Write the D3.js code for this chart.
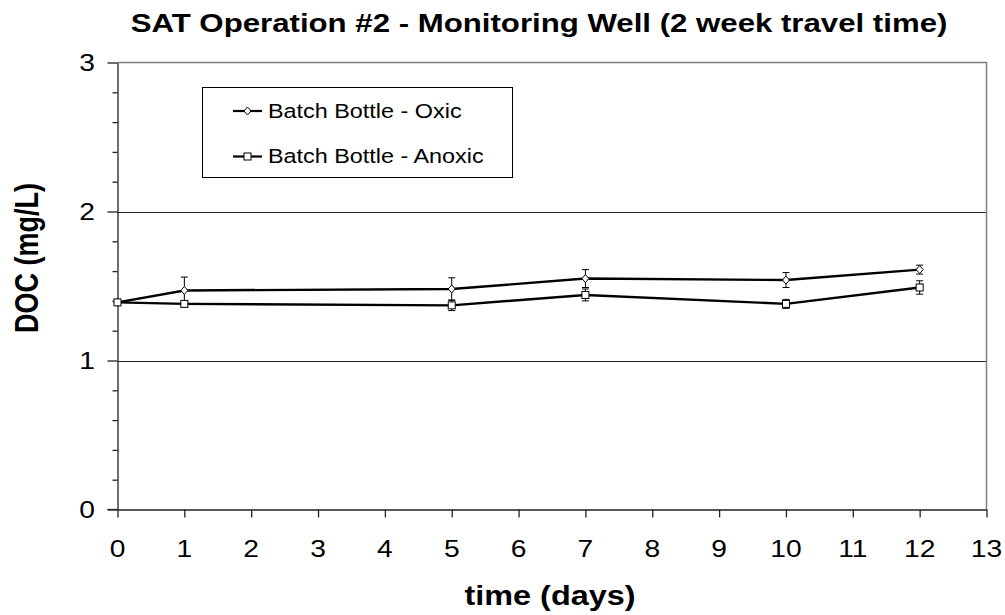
<!DOCTYPE html>
<html>
<head>
<meta charset="utf-8">
<script src="https://cdn.jsdelivr.net/npm/d3@7"></script>
<style>
  body { margin: 0; background: #fff; }
  svg { display: block; font-family: "Liberation Sans", Arial, sans-serif; }
</style>
</head>
<body>
<svg width="1005" height="615"></svg>
<script>
// values
const days = [0, 1, 5, 7, 10, 12];
const oxic = [1.39, 1.47, 1.48, 1.55, 1.54, 1.61];
const oxicErr = [0, 0.09, 0.075, 0.06, 0.05, 0.03];
const anoxic = [1.39, 1.38, 1.37, 1.44, 1.38, 1.49];
const anoxicErr = [0, 0.02, 0.035, 0.04, 0.03, 0.045];
const xTicks = [0, 1, 2, 3, 4, 5, 6, 7, 8, 9, 10, 11, 12, 13];
const yTicks = [0, 1, 2, 3];
const seriesNames = ["Batch Bottle - Oxic", "Batch Bottle - Anoxic"];

const sx = 1.2; // text in the picture is stretched sideways
const svg = d3.select("svg");
let margin = {top: 62.5, left: 117.5, right: 18.5, bottom: 105.5};
let w = 1005, h = 615;

var xScale = d3.scaleLinear().domain([0, 13]).range([margin.left, w - margin.right]);
var yScale = d3.scaleLinear().domain([0, 3]).range([h - margin.bottom, margin.top]);

// grid lines at 1 and 2
svg.append("g").selectAll("line")
  .data([1, 2])
  .enter().append("line")
  .attr("x1", xScale(0)).attr("x2", xScale(13))
  .attr("y1", d => Math.round(yScale(d)) + 0.5).attr("y2", d => Math.round(yScale(d)) + 0.5)
  .attr("stroke", "#222").attr("stroke-width", 1);

// plot area border (top and right)
svg.append("path")
  .attr("d", "M" + xScale(0) + "," + yScale(3) + "H" + xScale(13) + "V" + yScale(0))
  .attr("fill", "none").attr("stroke", "#808080").attr("stroke-width", 1.5);

// y axis with minor ticks
const yAxis = d3.axisLeft(yScale).tickValues(d3.range(0, 3.01, 0.2)).tickSize(5).tickFormat("").tickSizeOuter(0);
const yG = svg.append("g").attr("transform", "translate(" + xScale(0) + ",0)").call(yAxis);
yG.selectAll(".tick line").filter(d => Math.abs(d - Math.round(d)) < 1e-6).attr("x2", -10);
yG.selectAll("line, path").attr("stroke", "#222").attr("stroke-width", 1.3);

const xAxis = d3.axisBottom(xScale).tickValues(xTicks).tickSize(8).tickFormat("").tickSizeOuter(0);
const xG = svg.append("g").attr("transform", "translate(0," + yScale(0) + ")").call(xAxis);
xG.selectAll("line, path").attr("stroke", "#222").attr("stroke-width", 1.3);
// x axis line runs out to the y major tick
svg.append("line").attr("x1", xScale(0) - 10).attr("x2", xScale(0))
  .attr("y1", yScale(0)).attr("y2", yScale(0)).attr("stroke", "#222").attr("stroke-width", 1.3);

// tick labels
function stretchText(g, x, y, str, size, weight, anchor) {
  return g.append("text")
    .attr("transform", "translate(" + x + "," + y + ") scale(" + sx + ",1)")
    .attr("text-anchor", anchor)
    .attr("font-size", size)
    .attr("font-weight", weight)
    .text(str);
}
const labels = svg.append("g");
xTicks.forEach(d => stretchText(labels, xScale(d), 557, d, 23.5, "normal", "middle"));
yTicks.forEach(d => stretchText(labels, 95, yScale(d) + 8.5, d, 23.5, "normal", "end"));

// titles
stretchText(svg, 539, 32, "SAT Operation #2 - Monitoring Well (2 week travel time)", 26, "bold", "middle");
stretchText(svg, 550, 605, "time (days)", 27, "bold", "middle");
svg.append("text")
  .attr("transform", "translate(38,258) scale(" + sx + ",1) rotate(-90)")
  .attr("text-anchor", "middle")
  .attr("font-size", 27).attr("font-weight", "bold")
  .text("DOC (mg/L)");

// lines, error bars, markers
const line = d3.line().x((d, i) => xScale(days[i])).y(d => yScale(d));
const series = [
  {vals: oxic, err: oxicErr, shape: "diamond"},
  {vals: anoxic, err: anoxicErr, shape: "square"}
];
function marker(g, x, y, shape) {
  if (shape == "diamond") {
    g.append("path").attr("d", "M" + x + "," + (y - 4) + "L" + (x + 3.5) + "," + y + "L" + x + "," + (y + 4) + "L" + (x - 3.5) + "," + y + "Z")
      .attr("fill", "#fff").attr("stroke", "#000").attr("stroke-width", 1);
  } else {
    g.append("rect").attr("x", x - 3.5).attr("y", y - 3.5).attr("width", 7).attr("height", 7)
      .attr("fill", "#fff").attr("stroke", "#000").attr("stroke-width", 1);
  }
}
series.forEach(s => {
  svg.append("path").datum(s.vals).attr("d", line)
    .attr("fill", "none").attr("stroke", "#000").attr("stroke-width", 2.4);
  const eg = svg.append("g");
  s.vals.forEach((v, i) => {
    if (s.err[i] == 0) return;
    let x = xScale(days[i]);
    let y1 = yScale(v + s.err[i]), y2 = yScale(v - s.err[i]);
    eg.append("line").attr("x1", x).attr("x2", x).attr("y1", y1).attr("y2", y2).attr("stroke", "#000");
    eg.append("line").attr("x1", x - 3.5).attr("x2", x + 3.5).attr("y1", y1).attr("y2", y1).attr("stroke", "#000");
    eg.append("line").attr("x1", x - 3.5).attr("x2", x + 3.5).attr("y1", y2).attr("y2", y2).attr("stroke", "#000");
  });
});
series.forEach(s => {
  const mg = svg.append("g");
  s.vals.forEach((v, i) => marker(mg, xScale(days[i]), yScale(v), s.shape));
});

// legend
let legend = svg.append("g").attr("id", "legend");
legend.append("rect").attr("x", 202.5).attr("y", 87.5).attr("width", 310).attr("height", 90)
  .attr("fill", "#fff").attr("stroke", "#000").attr("stroke-width", 1);
seriesNames.forEach((name, i) => {
  let cy = 111 + i * 45.5;
  legend.append("line").attr("x1", 233).attr("x2", 262).attr("y1", cy).attr("y2", cy)
    .attr("stroke", "#000").attr("stroke-width", 2.2);
  marker(legend, 247.5, cy, series[i].shape);
  stretchText(legend, 268, cy + 6.5, name, 19.5, "normal", "start");
});
</script>
</body>
</html>
